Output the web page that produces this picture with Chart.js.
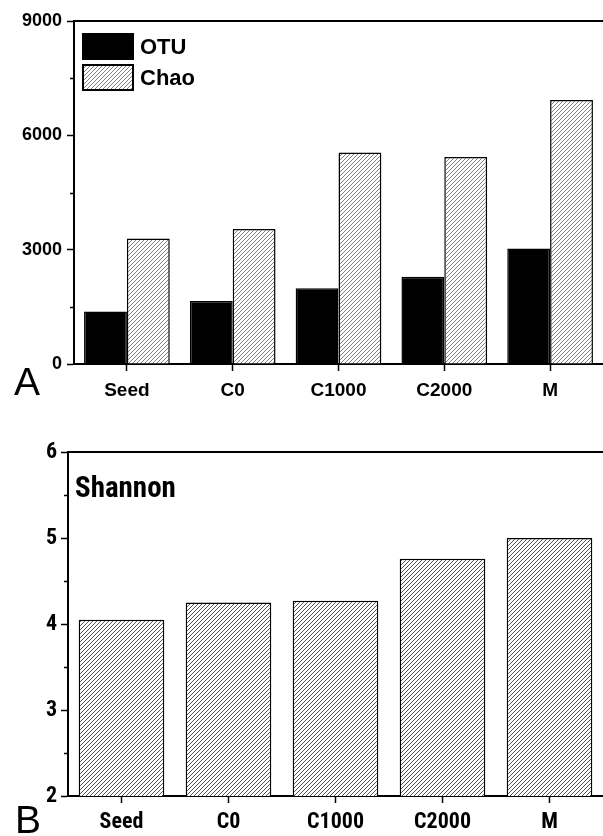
<!DOCTYPE html>
<html>
<head>
<meta charset="utf-8">
<script src="https://cdn.jsdelivr.net/npm/chart.js@4/dist/chart.umd.min.js"></script>
<style>
  html, body { margin: 0; padding: 0; background: #fff; }
  #wrap { position: relative; width: 603px; height: 836px; overflow: hidden; }
  canvas { position: absolute; left: 0; }
  #c1 { top: 0; }
  #c2 { top: 410px; }
  .panel { position: absolute; font-family: "Liberation Sans", Arial, sans-serif; font-size: 39px; line-height: 39px; color: #000; }
</style>
</head>
<body>
<div id="wrap">
  <canvas id="c1" width="603" height="410" style="width:603px;height:410px"></canvas>
  <canvas id="c2" width="603" height="426" style="width:603px;height:426px"></canvas>
  <div class="panel" style="left:14px;top:362px;">A</div>
  <div class="panel" style="left:15px;top:800px;">B</div>
</div>
<script>
// ---- data ----
const categories = ['Seed', 'C0', 'C1000', 'C2000', 'M'];
const otuValues = [1375, 1650, 1990, 2290, 3030];
const chaoValues = [3290, 3545, 5550, 5430, 6930];
const shannonValues = [4.05, 4.25, 4.27, 4.76, 5.0];
const seriesLabels = ['OTU', 'Chao'];
const shannonLabel = 'Shannon';
const topMajorTicks = [0, 3000, 6000, 9000];
const topMinorTicks = [1500, 4500, 7500];
const bottomMajorTicks = [2, 3, 4, 5, 6];
const bottomMinorTicks = [2.5, 3.5, 4.5, 5.5];

function hatch(lineColor, size, lw) {
  const c = document.createElement('canvas');
  c.width = size; c.height = size;
  const g = c.getContext('2d');
  g.fillStyle = '#fff';
  g.fillRect(0, 0, size, size);
  g.strokeStyle = lineColor;
  g.lineWidth = lw;
  g.beginPath();
  g.moveTo(0, size); g.lineTo(size, 0);
  g.moveTo(-1, 1); g.lineTo(1, -1);
  g.moveTo(size - 1, size + 1); g.lineTo(size + 1, size - 1);
  g.stroke();
  return c.getContext('2d').createPattern(c, 'repeat');
}
const hatchA = hatch('#808080', 4, 1);
const hatchB = hatch('#505050', 4, 1);

const minorTicksPlugin = {
  id: 'minorTicks',
  afterDraw(chart, args, opts) {
    const y = chart.scales.y;
    const g = chart.ctx;
    g.save();
    g.strokeStyle = '#000';
    g.lineWidth = 1.5;
    g.beginPath();
    (opts.values || []).forEach(v => {
      const py = Math.round(y.getPixelForValue(v)) + 0.5;
      g.moveTo(y.right, py);
      g.lineTo(y.right - (opts.len || 4), py);
    });
    g.stroke();
    g.restore();
  }
};

const insideLegendPlugin = {
  id: 'insideLegend',
  afterDraw(chart, args, opts) {
    if (!opts.show) return;
    const g = chart.ctx;
    const a = chart.chartArea;
    g.save();
    chart.data.datasets.forEach((ds, i) => {
      const x = a.left + 9, y = a.top + 13 + i * 31, w = 50, h = 25;
      g.fillStyle = ds.backgroundColor;
      g.fillRect(x, y, w, h);
      g.strokeStyle = '#000';
      g.lineWidth = 2;
      g.strokeRect(x, y, w, h);
      g.fillStyle = '#000';
      g.font = 'bold 22px "Liberation Sans", Arial, sans-serif';
      g.textBaseline = 'middle';
      g.textAlign = 'left';
      g.fillText(ds.label, x + w + 7, y + h / 2 + 1);
    });
    g.restore();
  }
};

const cornerTextPlugin = {
  id: 'cornerText',
  afterDraw(chart, args, opts) {
    if (!opts.text) return;
    const g = chart.ctx;
    const a = chart.chartArea;
    g.save();
    g.fillStyle = '#000';
    g.font = opts.font;
    g.textBaseline = 'alphabetic';
    g.textAlign = 'left';
    g.fillText(opts.text, a.left + opts.dx, a.top + opts.dy);
    g.restore();
  }
};

const boldY = { family: '"Liberation Sans", Arial, sans-serif', weight: 'bold', size: 18 };
const boldX = { family: '"Liberation Sans", Arial, sans-serif', weight: 'bold', size: 19 };
const narrowB = { family: '"Roboto Condensed", "DejaVu Sans Condensed", sans-serif', weight: 'bold', size: 22 };

function makeScales(opts) {
  return {
    x: {
      type: 'category',
      offset: true,
      grid: { display: true, offset: false, drawOnChartArea: false, drawTicks: true, tickLength: 7, tickColor: '#000', tickWidth: 1.5 },
      border: { display: true, color: '#000', width: 2 },
      ticks: { color: '#000', font: opts.xFont, padding: opts.xPad, maxRotation: 0, autoSkip: false },
      afterFit(s) { s.height = opts.xHeight; }
    },
    xTop: {
      type: 'category',
      position: 'top',
      labels: categories,
      grid: { display: false },
      ticks: { display: false },
      border: { display: true, color: '#000', width: 2 },
      afterFit(s) { s.height = 0; }
    },
    y: {
      min: opts.min, max: opts.max,
      afterBuildTicks(s) { s.ticks = opts.major.map(v => ({ value: v })); },
      grid: { display: true, drawOnChartArea: false, drawTicks: true, tickLength: 7, tickColor: '#000', tickWidth: 1.5 },
      border: { display: true, color: '#000', width: 2 },
      ticks: { color: '#000', font: opts.yFont, padding: opts.yPad, callback: v => String(v) },
      afterFit(s) { s.width = opts.yWidth; }
    }
  };
}

new Chart(document.getElementById('c1'), {
  type: 'bar',
  data: {
    labels: categories,
    datasets: [
      { label: seriesLabels[0], data: otuValues, backgroundColor: '#000', borderColor: '#000', borderWidth: 1.5, categoryPercentage: 0.81, barPercentage: 1 },
      { label: seriesLabels[1], data: chaoValues, backgroundColor: hatchA, borderColor: '#000', borderWidth: 1.5, categoryPercentage: 0.81, barPercentage: 1 }
    ]
  },
  options: {
    responsive: false,
    animation: false,
    layout: { padding: { top: 21, right: 0, left: 0, bottom: 0 } },
    plugins: {
      legend: { display: false },
      tooltip: { enabled: false },
      minorTicks: { values: topMinorTicks, len: 4 },
      insideLegend: { show: true },
      cornerText: {}
    },
    scales: makeScales({ xFont: boldX, yFont: boldY, min: 0, max: 9000, major: topMajorTicks, yWidth: 74, xHeight: 46, xPad: 8, yPad: 5 })
  },
  plugins: [minorTicksPlugin, insideLegendPlugin, cornerTextPlugin]
});

new Chart(document.getElementById('c2'), {
  type: 'bar',
  data: {
    labels: categories,
    datasets: [
      { label: shannonLabel, data: shannonValues, backgroundColor: hatchB, borderColor: '#000', borderWidth: 1.5, categoryPercentage: 1, barPercentage: 0.8 }
    ]
  },
  options: {
    responsive: false,
    animation: false,
    layout: { padding: { top: 42, right: 0, left: 0, bottom: 0 } },
    plugins: {
      legend: { display: false },
      tooltip: { enabled: false },
      minorTicks: { values: bottomMinorTicks, len: 4 },
      insideLegend: { show: false },
      cornerText: { text: shannonLabel, font: 'bold 29px "Roboto Condensed", "DejaVu Sans Condensed", sans-serif', dx: 7, dy: 45 }
    },
    scales: makeScales({ xFont: narrowB, yFont: narrowB, min: 2, max: 6, major: bottomMajorTicks, yWidth: 68, xHeight: 40, xPad: 6, yPad: 4 })
  },
  plugins: [minorTicksPlugin, insideLegendPlugin, cornerTextPlugin]
});
</script>
</body>
</html>
